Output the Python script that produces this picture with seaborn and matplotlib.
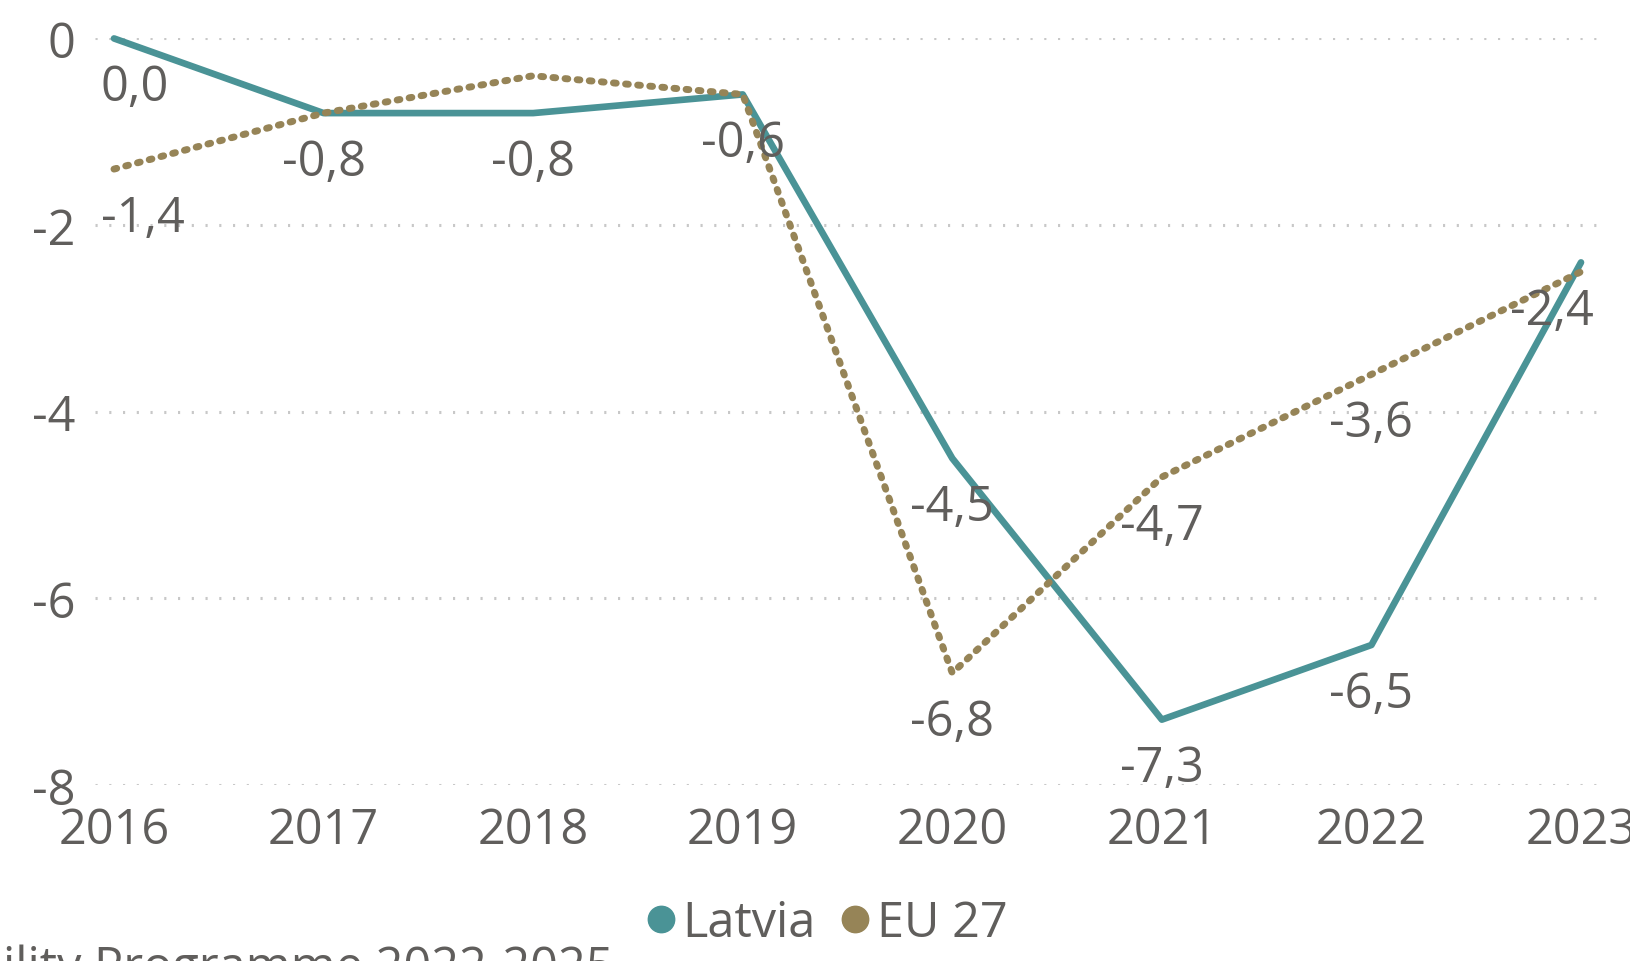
import matplotlib
matplotlib.use("Agg")
import matplotlib.pyplot as plt
from matplotlib.lines import Line2D
import pandas as pd
import seaborn as sns

# ── data ─────────────────────────────────────────────
years = [2016, 2017, 2018, 2019, 2020, 2021, 2022, 2023]
latvia = [0.0, -0.8, -0.8, -0.6, -4.5, -7.3, -6.5, -2.4]
eu27 = [-1.4, -0.8, -0.4, -0.6, -6.8, -4.7, -3.6, -2.5]
# which EU points carry a data label (others hidden to avoid overlap)
eu_labelled = [True, False, False, False, True, True, True, False]
y_ticks = [0, -2, -4, -6, -8]

TEAL = "#4A9396"
BROWN = "#968457"
TEXT = "#605E5C"
GRID = "#C8C8C8"
FS = 35

sns.set_style("white")
plt.rcParams['font.family'] = ['Open Sans', 'DejaVu Sans']

df = pd.DataFrame({"year": years, "Latvia": latvia, "EU 27": eu27})

fig = plt.figure(figsize=(16.31, 9.62), dpi=100)
ax = fig.add_axes([0.0582, 0.183, 0.924, 0.776])

sns.lineplot(data=df, x="year", y="Latvia", ax=ax, color=TEAL,
             linewidth=4.8, solid_capstyle="round", solid_joinstyle="round")
sns.lineplot(data=df, x="year", y="EU 27", ax=ax, color=BROWN,
             linewidth=5.0, linestyle=(0, (0.4, 1.35)))
for ln in ax.get_lines():
    ln.set_dash_capstyle("round")
    ln.set_clip_on(False)

ax.set_xlim(2015.909, 2023.1)
ax.set_ylim(-8, 0)
ax.set_xticks(years)
ax.set_xticklabels([str(y) for y in years])
ax.set_yticks(y_ticks)
ax.set_yticklabels([str(t) for t in y_ticks])
ax.tick_params(axis="both", length=0, labelsize=FS, colors=TEXT)
ax.tick_params(axis="y", pad=14)
ax.tick_params(axis="x", pad=15)
ax.set_xlabel("")
ax.set_ylabel("")
for s in ax.spines.values():
    s.set_visible(False)
ax.yaxis.grid(True, color=GRID, linewidth=2.2, linestyle=(0, (0.7, 3.8)))
ax.xaxis.grid(False)
ax.set_axisbelow(True)


def fmt(v):
    return f"{v:.1f}".replace(".", ",")


def put_label(x, y):
    if x == years[0]:
        ha, dx = "left", -9.4
    elif x == years[-1]:
        ha, dx = "right", 9.4
    else:
        ha, dx = "center", 0
    ax.annotate(fmt(y), (x, y), xytext=(dx, -35.3), textcoords="offset points",
                ha=ha, va="center", fontsize=FS, color=TEXT, annotation_clip=False)


for x, y in zip(years, latvia):
    put_label(x, y)
for x, y, show in zip(years, eu27, eu_labelled):
    if show:
        put_label(x, y)

handles = [Line2D([], [], marker="o", linestyle="none", markersize=19, color=TEAL),
           Line2D([], [], marker="o", linestyle="none", markersize=19, color=BROWN)]
leg = fig.legend(handles, ["Latvia", "EU 27"], loc="center", bbox_to_anchor=(0.507, 0.039),
                 ncol=2, frameon=False, fontsize=FS, handlelength=0.6,
                 handletextpad=0.15, columnspacing=0.5)
for t in leg.get_texts():
    t.set_color(TEXT)

fig.text(0.376, -0.021, "Source: Stability Programme 2022-2025", ha="right", va="baseline",
         fontsize=FS, color=TEXT)

fig.savefig("out.png", dpi=100)
